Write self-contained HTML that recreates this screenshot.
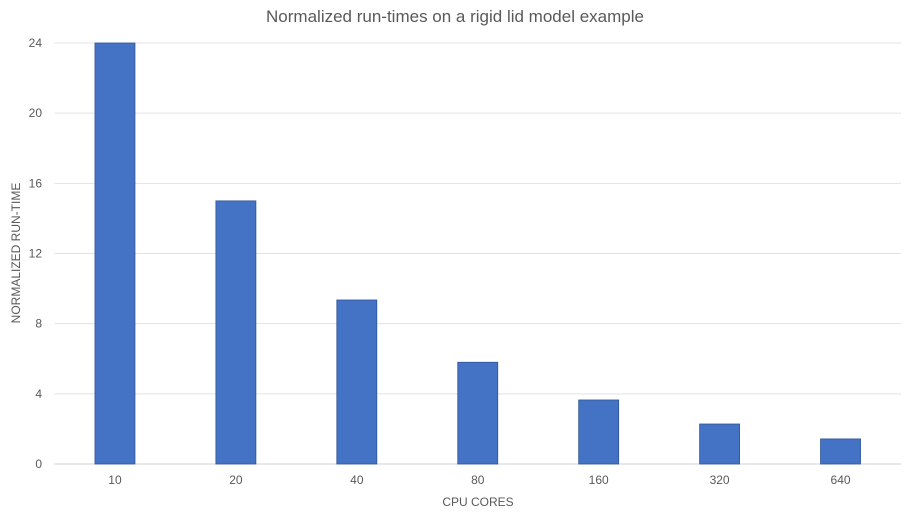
<!DOCTYPE html>
<html><head><meta charset="utf-8"><style>
body{margin:0;background:#fff;}
svg{display:block;font-family:"Liberation Sans",sans-serif;}
</style></head><body>
<svg id="chart" width="910" height="515">
<text x="455" y="22" text-anchor="middle" font-size="17" fill="#595959">Normalized run-times on a rigid lid model example</text>
<g id="grid"></g><g id="bars"></g><g id="labels"></g>
<text x="478" y="506" text-anchor="middle" font-size="12" fill="#595959">CPU CORES</text>
<text transform="translate(20,253) rotate(-90)" text-anchor="middle" font-size="12" fill="#595959">NORMALIZED RUN-TIME</text>
</svg>
<script>
const categories=["10","20","40","80","160","320","640"];
const values=[24,15,9.35,5.8,3.65,2.28,1.43];
const yTicks=[0,4,8,12,16,20,24];
const ns="http://www.w3.org/2000/svg";
const L=54.5,R=901,T=43,B=464,yMax=24;
const y=v=>B-(v/yMax)*(B-T);
const band=(R-L)/categories.length;
const x=i=>L+band*i;
const bw=40;
function mk(tag,attrs,parent,txt){const e=document.createElementNS(ns,tag);for(const k in attrs)e.setAttribute(k,attrs[k]);if(txt!=null)e.textContent=txt;parent.appendChild(e);return e;}
const grid=document.getElementById('grid'),bars=document.getElementById('bars'),labels=document.getElementById('labels');
yTicks.forEach(t=>{
 const l=mk('line',{x1:L,x2:R,y1:y(t),y2:y(t),stroke:t===0?'#d0d0d0':'#e3e3e3','stroke-width':1},grid);
 
 
 const tx=mk('text',{x:42,y:y(t)+4,'text-anchor':'end','font-size':12,fill:'#595959'},labels,String(t));
 
 
});
categories.forEach((c,i)=>{
 const cx=x(i)+band/2;
 const r=mk('rect',{x:cx-bw/2,y:y(values[i]),width:bw,height:B-y(values[i]),fill:'#4472C4',stroke:'#2F5597','stroke-width':0.8},bars);
 
 
 const tx=mk('text',{x:cx,y:484,'text-anchor':'middle','font-size':12,fill:'#595959'},labels,c);
 
 
});
</script>
</body></html>
